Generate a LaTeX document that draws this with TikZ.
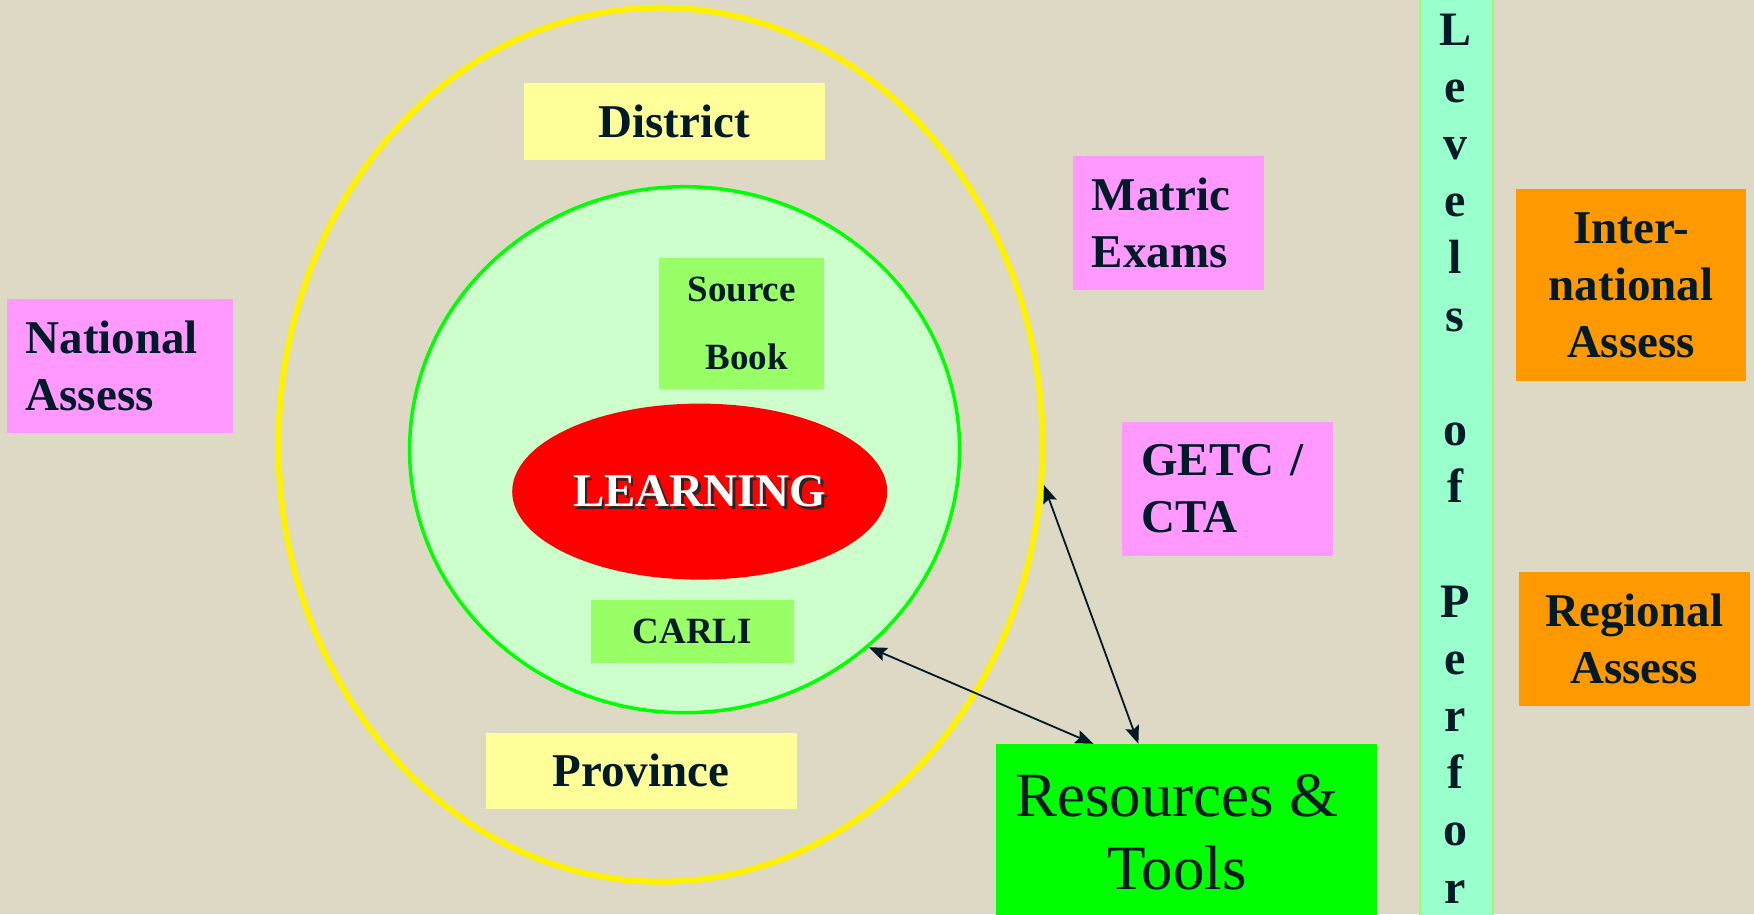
\documentclass[tikz,border=0pt]{standalone}
\usepackage{fontspec}
\setmainfont{Liberation Serif}
\usetikzlibrary{shapes.geometric,arrows.meta}
\definecolor{paper}{HTML}{DDD9C4}
\definecolor{ink}{HTML}{001A28}
\definecolor{pinkbox}{HTML}{FF99FF}
\definecolor{orangebox}{HTML}{FF9900}
\definecolor{paleyellow}{HTML}{FFFF99}
\definecolor{palegreen}{HTML}{CCFFCC}
\definecolor{limebox}{HTML}{99FF66}
\definecolor{mintbar}{HTML}{99FFCC}
\begin{document}
\begin{tikzpicture}[x=1pt,y=-1pt,
  every node/.style={text=ink},
  bigtxt/.style={font=\fontsize{47}{57}\selectfont\bfseries},
  midtxt/.style={font=\fontsize{37}{68}\selectfont\bfseries},
  leftbox/.style={align=left, text width=#1, inner xsep=19pt, inner ysep=0pt},
  midbox/.style={align=center, inner sep=0pt},
  link/.style={draw=ink, line width=1.8pt, {Stealth[length=18pt,width=14pt,inset=3pt]}-{Stealth[length=18pt,width=14pt,inset=3pt]}}]
\useasboundingbox (0,0) rectangle (1754,914);
\fill[paper] (0,0) rectangle (1754,914);
% rings round the learning
\node[ellipse, draw=yellow, line width=6pt, inner sep=0pt, minimum width=764pt, minimum height=874pt] (outer) at (660.5,444.7) {};
\node[ellipse, draw=green, fill=palegreen, line width=3.5pt, inner sep=0pt, minimum width=550pt, minimum height=526pt] (inner) at (684.6,449.7) {};
\node[ellipse, fill=red, inner sep=0pt, minimum width=375pt, minimum height=176pt] (learning) at (699.7,491.6) {};
\node[bigtxt, text=black!85, xshift=2.5pt, yshift=-2.5pt] at (learning.center) {LEARNING};
\node[bigtxt, text=white] at (learning.center) {LEARNING};
% labels inside the rings
\node[midbox, bigtxt, fill=paleyellow, minimum width=301pt, minimum height=77pt] (district) at (674,121.4) {District};
\node[midbox, bigtxt, fill=paleyellow, minimum width=311pt, minimum height=76pt] (province) at (641,770.7) {Province};
\node[midbox, midtxt, fill=limebox, minimum width=165.5pt, minimum height=131pt] (source) at (741.7,323.9) {Source\\ \hspace{10pt}Book};
\node[midbox, midtxt, fill=limebox, minimum width=203.6pt, minimum height=63.7pt] (carli) at (692.4,631.5) {CARLI};
% assessments
\node[leftbox=188pt, bigtxt, fill=pinkbox, minimum height=134pt] (national) at (119.7,365.8) {National\\Assess};
\node[leftbox=153pt, bigtxt, fill=pinkbox, minimum height=134pt] (matric) at (1168.4,222.6) {Matric\\Exams};
\node[leftbox=173pt, bigtxt, fill=pinkbox, minimum height=134pt] (getc) at (1227.7,488.9) {GETC /\\CTA};
\node[midbox, bigtxt, fill=orangebox, minimum width=230.5pt, minimum height=192.4pt] (intl) at (1631,285.2) {Inter-\\national\\Assess};
\node[midbox, bigtxt, fill=orangebox, minimum width=230.5pt, minimum height=134.2pt] (regional) at (1634.3,638.7) {Regional\\Assess};
% resources
\node[fill=green, inner sep=0pt, minimum width=381.4pt, minimum height=188pt] (resources) at (1186.3,838) {};
\node[midbox, font=\fontsize{63}{73}\selectfont] (restext) at (1177,832) {Resources \&\\Tools};
\draw[link] (inner.-47.5) -- ([xshift=98pt]resources.north west);
\draw[link] (outer.-6) -- ([xshift=143pt]resources.north west);
% levels bar
\node[fill=mintbar, draw=limebox, line width=2pt, inner sep=0pt, minimum width=73.8pt, minimum height=940pt] (bar) at (1456.4,457) {};
\foreach \c/\i in {L/0,e/1,v/2,e/3,l/4,s/5,o/7,f/8,P/10,e/11,r/12,f/13,o/14,r/15}
  \node[font=\fontsize{48}{57}\selectfont\bfseries, anchor=base, inner sep=0pt] (lv\i) at (1455.3,45+57.2*\i) {\c};
\end{tikzpicture}
\end{document}
